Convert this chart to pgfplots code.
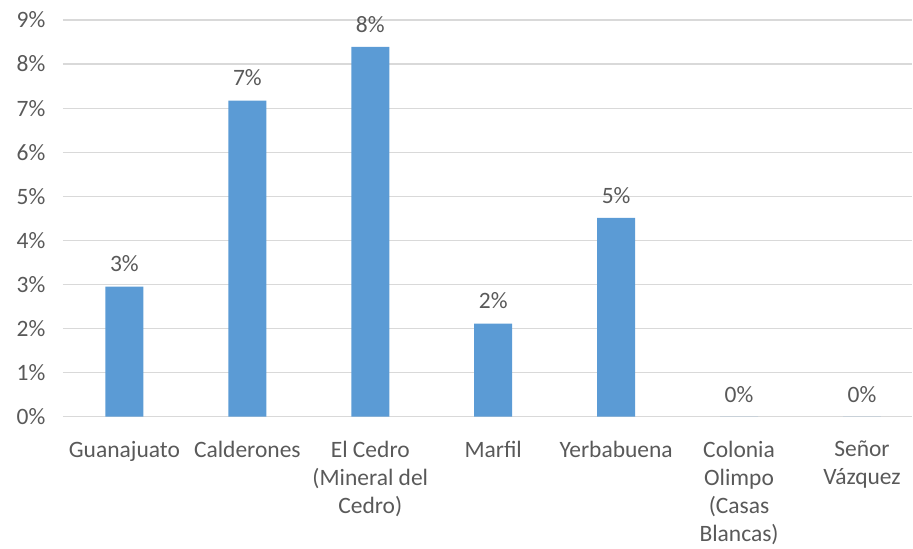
\documentclass[border=0pt]{standalone}
\usepackage{fontspec}
\setmainfont{Carlito}
\usepackage{pgfplots}
\pgfplotsset{compat=1.18}
\definecolor{barblue}{HTML}{5B9BD5}
\definecolor{txtgray}{HTML}{595959}
\definecolor{gridgray}{HTML}{D9D9D9}

\begin{document}
\begin{tikzpicture}
  \begin{axis}[
      scale only axis,
      width=850pt, height=397pt,
      ybar, bar width=38pt,
      xmin=-0.5, xmax=6.41,
      ymin=0, ymax=9,
      xtick=data,
      ytick={0,1,...,9},
      xticklabels={Guanajuato, Calderones, {El Cedro\\(Mineral del\\Cedro)}, Marfil, Yerbabuena, {Colonia\\Olimpo\\(Casas\\Blancas)}, {Señor\\Vázquez}},
      yticklabel={\pgfmathprintnumber{\tick}\%},
      /pgf/number format/assume math mode=true,
      axis line style={draw=none},
      major tick length=0pt,
      ymajorgrids,
      grid style={gridgray, line width=1.2pt},
      tick label style={font=\fontsize{23.5}{28}\selectfont, text=txtgray},
      xticklabel style={align=center, anchor=north, yshift=-21pt},
      yticklabel style={xshift=-14pt},
      nodes near coords={\pgfmathprintnumber[fixed,precision=0]{\pgfplotspointmeta}\%},
      every node near coord/.append style={font=\fontsize{23.5}{28}\selectfont, text=txtgray, anchor=south, yshift=11pt},
    ]
    \addplot[fill=barblue, draw=none] coordinates {
      (0,2.95) (1,7.17) (2,8.39) (3,2.11) (4,4.51) (5,0) (6,0)
    };
  \end{axis}
  \path (-63pt,-129pt) rectangle (850pt,417pt);
\end{tikzpicture}
\end{document}
